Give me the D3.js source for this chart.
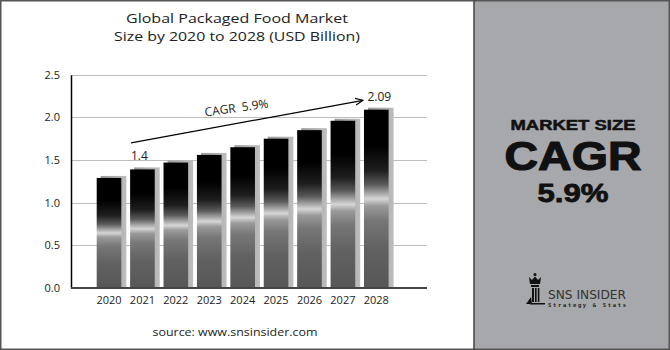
<!DOCTYPE html>
<html>
<head>
<meta charset="utf-8">
<script src="https://cdn.jsdelivr.net/npm/d3@7"></script>
<style>
html,body{margin:0;padding:0;background:#fff;}
svg{display:block;}
</style>
</head>
<body>
<svg id="chart" width="670" height="350"></svg>
<script>
const years = ["2020","2021","2022","2023","2024","2025","2026","2027","2028"];
const values = [1.29, 1.39, 1.47, 1.56, 1.65, 1.75, 1.85, 1.96, 2.09];
const yTicks = [0, 0.5, 1.0, 1.5, 2.0, 2.5];
const titleLines = ["Global Packaged Food Market", "Size by 2020 to 2028 (USD Billion)"];
const valueLabels = [{year:"2021", text:"1.4"}, {year:"2028", text:"2.09"}];
const cagrText = "CAGR  5.9%";
const sideLines = ["MARKET SIZE", "CAGR", "5.9%"];
const sourceText = "source: www.snsinsider.com";

const svg = d3.select("#chart");
const font = "'Open Sans', 'DejaVu Sans', sans-serif";

// panels
svg.append("rect").attr("x",0).attr("y",0).attr("width",670).attr("height",350).attr("fill","#fff");
svg.append("rect").attr("x",474).attr("y",0).attr("width",196).attr("height",350).attr("fill","#a7a8ab");
svg.append("rect").attr("x",0.75).attr("y",0.75).attr("width",668.5).attr("height",348.5)
  .attr("fill","none").attr("stroke","#555").attr("stroke-width",1.5);
svg.append("line").attr("x1",474).attr("x2",474).attr("y1",0).attr("y2",350)
  .attr("stroke","#444").attr("stroke-width",1.5);

// scales
const plotLeft = 71, plotRight = 427;
const x = d3.scaleBand().domain(years).range([96.7, 388.6]).paddingInner(0.263).paddingOuter(0);
const y = d3.scaleLinear().domain([0, 2.5]).range([288, 74.7]);

// gradient
const defs = svg.append("defs");
const g = defs.append("linearGradient").attr("id","barGrad").attr("x1",0).attr("y1",0).attr("x2",0).attr("y2",1);
[[0,"#000"],[0.2,"#000"],[0.34,"#1e1e1e"],[0.42,"#5a5a5a"],[0.47,"#a8a8a8"],[0.5,"#d6d6d6"],[0.54,"#9a9a9a"],[0.62,"#777"],[0.78,"#616161"],[1,"#575757"]]
  .forEach(([o,c]) => g.append("stop").attr("offset",o).attr("stop-color",c));
const sg = defs.append("linearGradient").attr("id","shadowGrad").attr("x1",0).attr("y1",0).attr("x2",1).attr("y2",0);
[[0,"#9a9a9a"],[1,"#bdbdbd"]].forEach(([o,c]) => sg.append("stop").attr("offset",o).attr("stop-color",c));

// gridlines
svg.append("g").selectAll("line").data(yTicks.filter(d=>d>0)).join("line")
  .attr("x1",plotLeft).attr("x2",plotRight)
  .attr("y1",d=>Math.round(y(d))+0.5).attr("y2",d=>Math.round(y(d))+0.5)
  .attr("stroke","#bdbdbd").attr("stroke-width",1);

// y axis
const yAxis = svg.append("g").attr("transform",`translate(${plotLeft},0)`)
  .call(d3.axisLeft(y).tickValues(yTicks).tickFormat(d3.format(".1f")).tickSize(0).tickPadding(11));
yAxis.select(".domain").attr("stroke","#000").attr("stroke-width",1.5);
yAxis.selectAll("text").attr("font-family",font).attr("font-size",11).attr("fill","#222");

// bars: shadow then body
const bars = svg.append("g");
bars.selectAll("rect.sh").data(values).join("rect").attr("class","sh")
  .attr("x",(d,i)=>x(years[i])+4).attr("y",d=>y(d)-2)
  .attr("width",x.bandwidth()+1).attr("height",d=>y(0)-y(d)+2)
  .attr("fill","url(#shadowGrad)");
bars.selectAll("rect.bd").data(values).join("rect").attr("class","bd")
  .attr("x",(d,i)=>x(years[i])).attr("y",d=>y(d))
  .attr("width",x.bandwidth()).attr("height",d=>y(0)-y(d))
  .attr("fill","url(#barGrad)");

// x axis baseline
const xAxis = svg.append("g").attr("transform",`translate(0,${y(0)})`)
  .call(d3.axisBottom(x).tickSize(0).tickPadding(8));
xAxis.select(".domain").remove();
xAxis.selectAll("text").attr("font-family",font).attr("font-size",11).attr("fill","#222");
svg.append("line").attr("x1",plotLeft).attr("x2",plotRight).attr("y1",y(0)).attr("y2",y(0))
  .attr("stroke","#444").attr("stroke-width",2);

// value labels
svg.append("g").selectAll("text").data(valueLabels).join("text")
  .attr("x",d=>x(d.year)+x.bandwidth()/2+ (d.text==="1.4"?-3:3))
  .attr("y",d=>y(values[years.indexOf(d.year)])-9)
  .attr("text-anchor","middle").attr("font-family",font).attr("font-size",12).attr("fill","#222")
  .text(d=>d.text);

// CAGR arrow
defs.append("marker").attr("id","arrow").attr("viewBox","0 0 10 10").attr("refX",9).attr("refY",5)
  .attr("markerWidth",7).attr("markerHeight",7).attr("orient","auto")
  .append("path").attr("d","M0,1 L9,5 L0,9").attr("fill","none").attr("stroke","#000").attr("stroke-width",1.3);
const ax1 = x("2021")+1, ay1 = y(1.70), ax2 = x("2028")-1, ay2 = y(2.20);
svg.append("line").attr("x1",ax1).attr("y1",ay1).attr("x2",ax2).attr("y2",ay2)
  .attr("stroke","#000").attr("stroke-width",1.2).attr("marker-end","url(#arrow)");
svg.append("text").attr("transform",`translate(237,112) rotate(-8)`)
  .attr("text-anchor","middle").attr("font-family",font).attr("font-size",12).attr("fill","#222")
  .attr("xml:space","preserve").style("white-space","pre").text(cagrText);

// title
const titleLens = [222, 246];
svg.append("g").selectAll("text").data(titleLines).join("text")
  .attr("x",237).attr("y",(d,i)=>23+i*18)
  .attr("text-anchor","middle").attr("font-family",font).attr("font-size",13).attr("fill","#222")
  .attr("textLength",(d,i)=>titleLens[i]).attr("lengthAdjust","spacingAndGlyphs")
  .text(d=>d);

// source
svg.append("text").attr("x",235).attr("y",336).attr("text-anchor","middle")
  .attr("font-family",font).attr("font-size",11).attr("fill","#222")
  .attr("textLength",165).attr("lengthAdjust","spacingAndGlyphs").text(sourceText);

// side panel text
const sideFont = "'Liberation Sans', 'DejaVu Sans', sans-serif";
const side = [
  {t:sideLines[0], y:130, size:14.5, len:125, sw:0.5},
  {t:sideLines[1], y:170, size:40, len:137, sw:1.2},
  {t:sideLines[2], y:202, size:25, len:71, sw:0.8}
];
svg.append("g").selectAll("text").data(side).join("text")
  .attr("x",573).attr("y",d=>d.y).attr("text-anchor","middle")
  .attr("font-family",sideFont).attr("font-weight","bold").attr("font-size",d=>d.size)
  .attr("textLength",d=>d.len).attr("lengthAdjust","spacingAndGlyphs")
  .attr("fill","#111").attr("stroke","#111").attr("stroke-width",d=>d.sw).attr("stroke-linejoin","round")
  .text(d=>d.t);

// logo
const logo = svg.append("g").attr("fill","#111");
logo.append("circle").attr("cx",535).attr("cy",274.5).attr("r",1.5);
logo.append("path").attr("d","M529,277 L532,280 L535,276.5 L538,280 L541,277 L540,284 L530,284 Z");
logo.append("rect").attr("x",531).attr("y",285).attr("width",8).attr("height",2);
logo.append("rect").attr("x",532).attr("y",288).attr("width",2).attr("height",14);
logo.append("rect").attr("x",535).attr("y",288).attr("width",1.6).attr("height",14);
logo.append("rect").attr("x",537.8).attr("y",288).attr("width",1.6).attr("height",14);
logo.append("path").attr("d","M526,304 L531,297 L532,304 Z");
logo.append("rect").attr("x",530).attr("y",303).attr("width",15).attr("height",1.5);
svg.append("text").attr("x",548).attr("y",299).attr("font-family","'DejaVu Sans', sans-serif")
  .attr("font-size",13).attr("fill","#333").attr("textLength",78).attr("lengthAdjust","spacingAndGlyphs")
  .text("SNS INSIDER");
svg.append("text").attr("x",548).attr("y",307).attr("font-family","'DejaVu Sans Mono', monospace")
  .attr("font-weight","bold").attr("font-size",5.5).attr("fill","#222").attr("textLength",78).attr("lengthAdjust","spacing")
  .text("Strategy & Stats");
</script>
</body>
</html>
